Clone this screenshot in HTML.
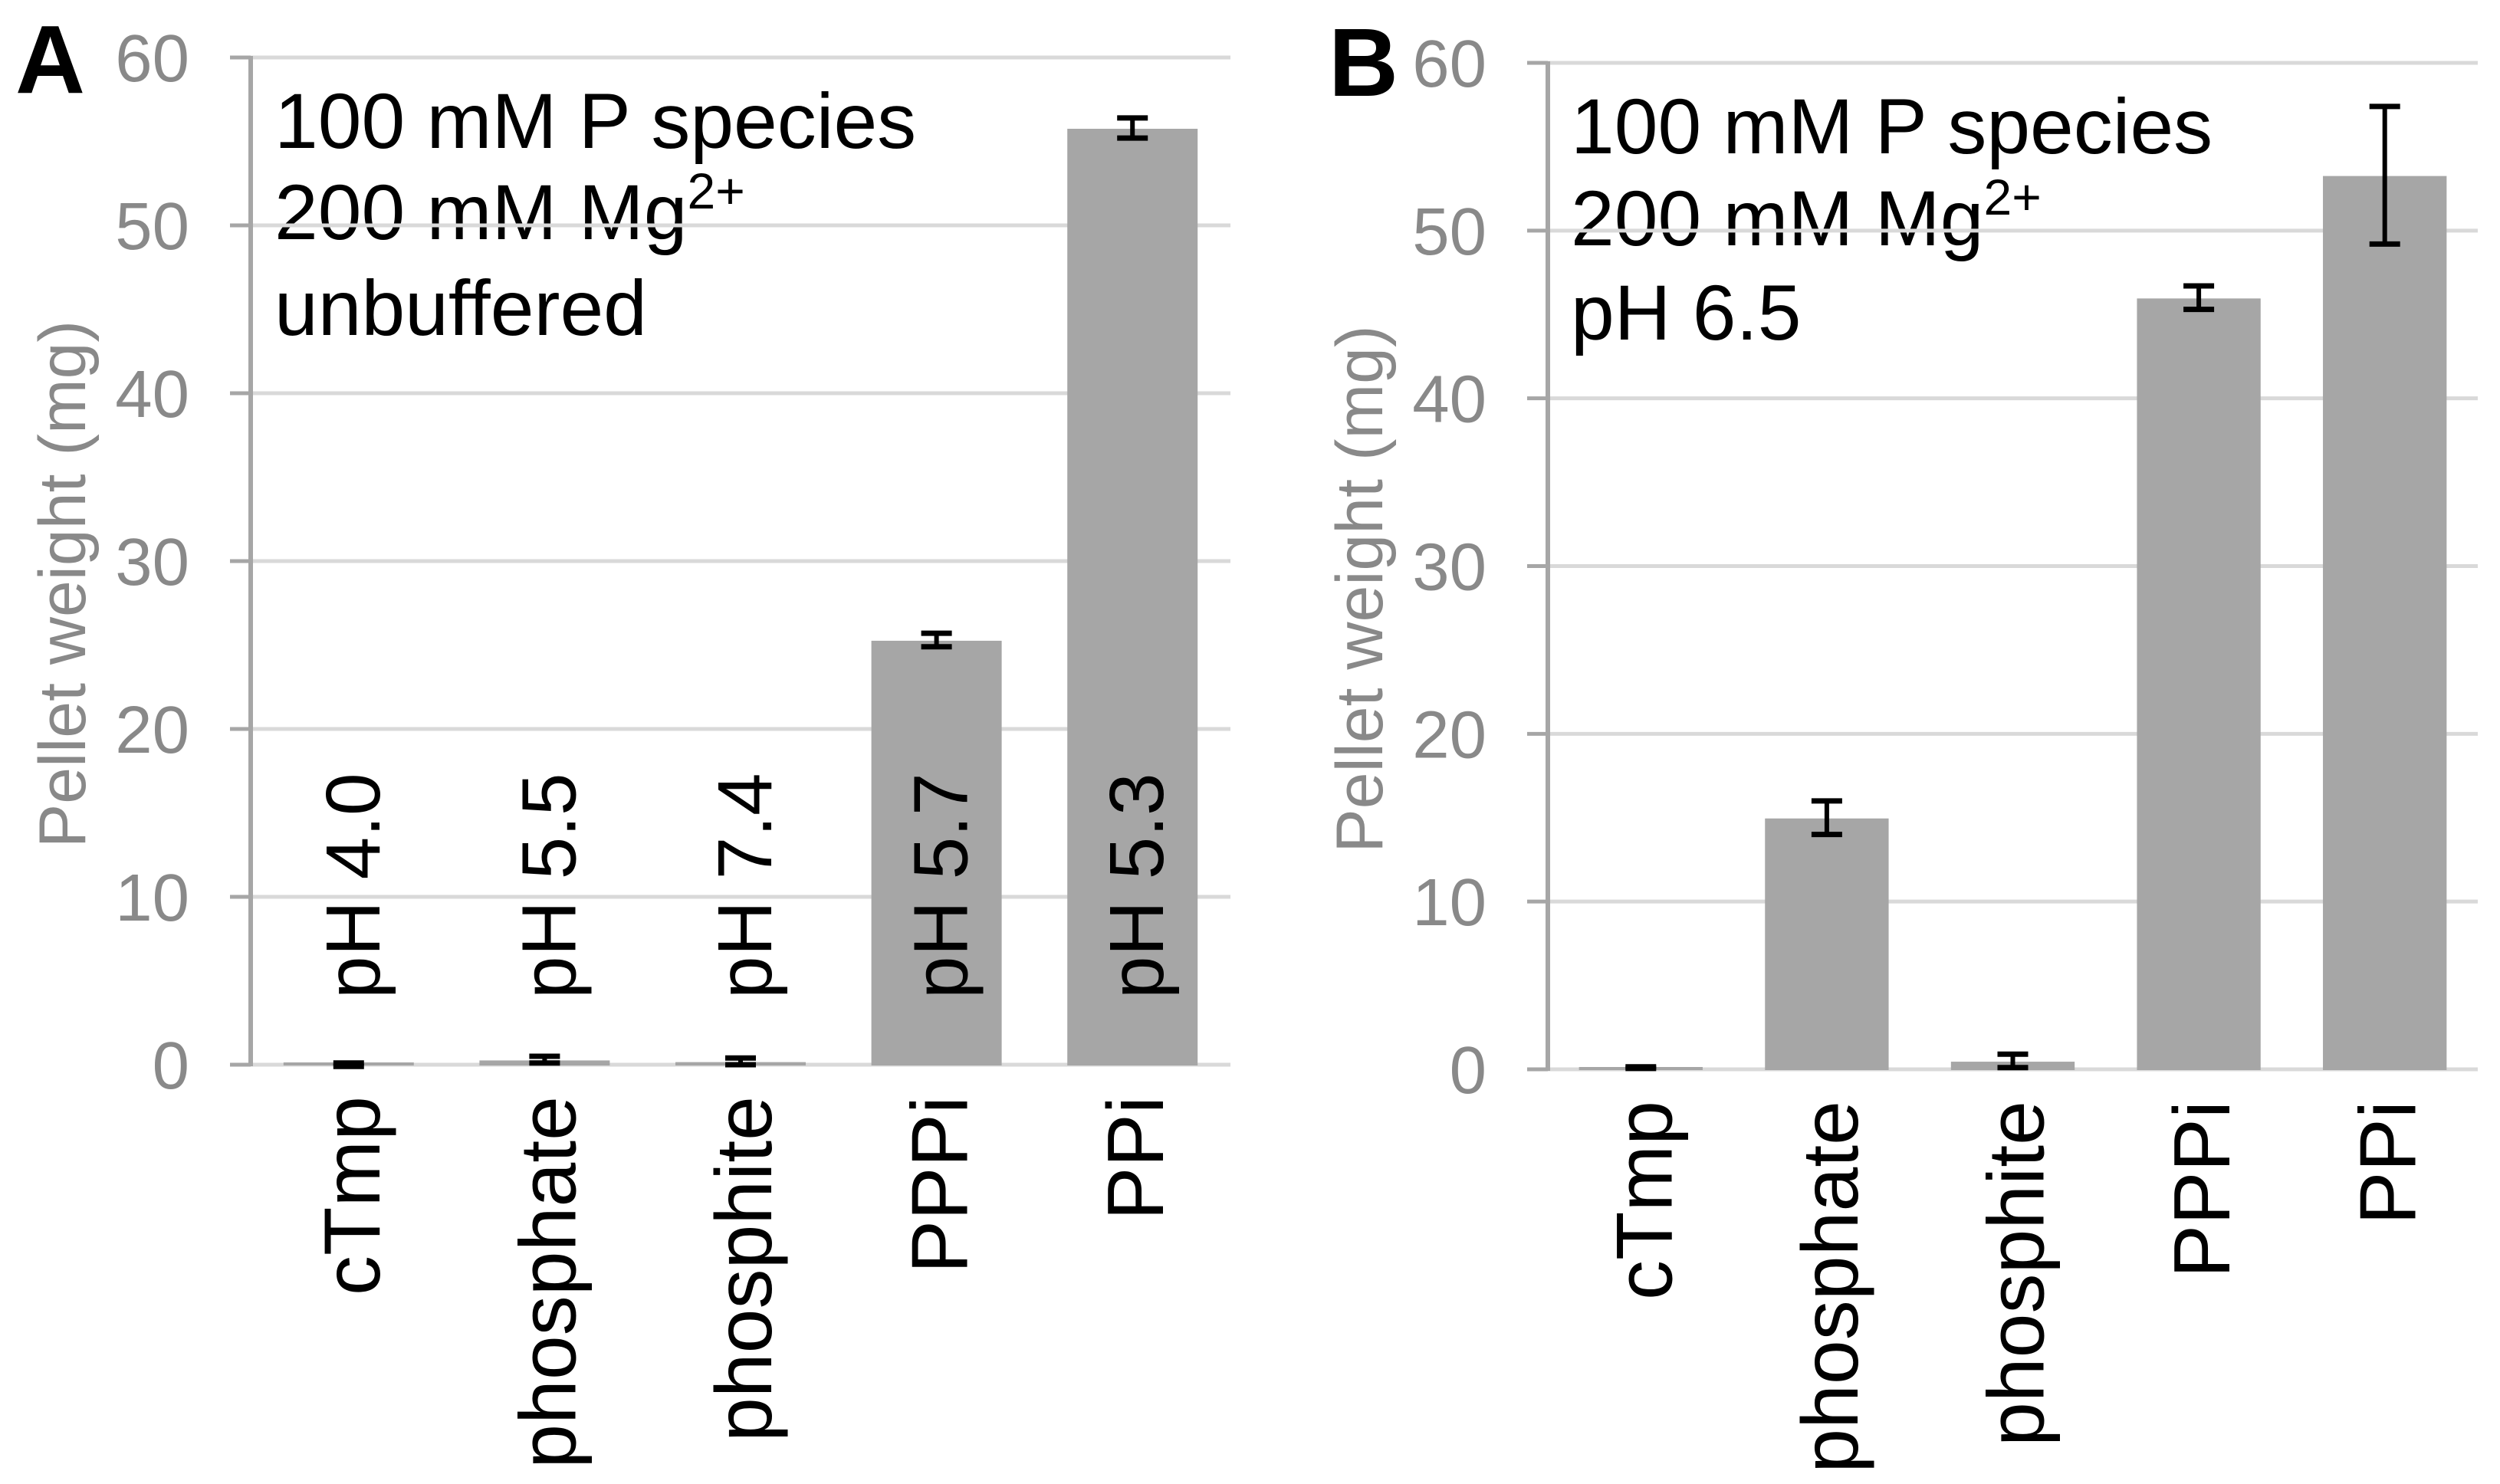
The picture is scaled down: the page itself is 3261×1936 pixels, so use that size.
<!DOCTYPE html>
<html><head><meta charset="utf-8">
<style>
html,body{margin:0;padding:0;background:#fff;}
svg{display:block;font-family:"Liberation Sans",Arial,sans-serif;}
</style></head>
<body>
<svg id="chart" width="3261" height="1936" viewBox="0 0 3261 1936" xmlns="http://www.w3.org/2000/svg">
<text x="20" y="121" font-size="126" font-weight="bold" fill="#000">A</text>
<text x="1733" y="125" font-size="126" font-weight="bold" fill="#000">B</text>
<g font-size="102" fill="#000">
<text x="358" y="193">100 mM P species</text>
<text x="358" y="312">200 mM Mg<tspan font-size="66" dy="-40">2+</tspan></text>
<text x="358" y="437">unbuffered</text>
</g>
<g font-size="102" fill="#000">
<text x="2049" y="200">100 mM P species</text>
<text x="2049" y="320">200 mM Mg<tspan font-size="66" dy="-40">2+</tspan></text>
<text x="2049" y="443">pH 6.5</text>
</g>
</svg>
<script>
const categories = ["cTmp","phosphate","phosphite","PPPi","PPi"];
const valuesA = [0.0, 0.3, 0.2, 25.3, 55.8];
const errorsA = [0.1, 0.2, 0.2, 0.4, 0.6];
const phLabelsA = ["pH 4.0","pH 5.5","pH 7.4","pH 5.7","pH 5.3"];
const valuesB = [0.1, 15.0, 0.5, 46.0, 53.3];
const errorsB = [0.05, 1.0, 0.4, 0.7, 4.1];
const yTicks = [0,10,20,30,40,50,60];

const NS = "http://www.w3.org/2000/svg";
const svg = document.getElementById('chart');
function mk(tag, attrs, parent){
  const e = document.createElementNS(NS, tag);
  for (const k in attrs) e.setAttribute(k, attrs[k]);
  (parent||svg).appendChild(e);
  return e;
}
function panel(id, x0, x1, y0, y60, vals, errs, phs, tickRight, titleX){
  const g = mk('g', {});
  
  
  const yScale = v => y0 - (v/60)*(y0-y60);
  const cw = (x1-x0)/categories.length;
  const bw = cw*0.665;
  const xCenter = i => x0 + (i+0.5)*cw;
  yTicks.forEach(t => {
    const y = yScale(t);
    if (t > 0) {
      const gl = mk('line', {x1:x0, x2:x1, y1:y, y2:y, stroke:'#d9d9d9', 'stroke-width':5}, g);
      
      
    }
    const tk = mk('line', {x1:x0-27, x2:x0, y1:y, y2:y, stroke:'#a6a6a6', 'stroke-width':5}, g);
    
    
    const tl = mk('text', {x:tickRight, y:y+31, 'text-anchor':'end', 'font-size':87, fill:'#898989'}, g);
    tl.textContent = t;
    
    
  });
  const base = mk('line', {x1:x0, x2:x1, y1:y0, y2:y0, stroke:'#d9d9d9', 'stroke-width':5}, g);
  
  
  const ax = mk('line', {x1:x0, x2:x0, y1:y60-2, y2:y0+2, stroke:'#a6a6a6', 'stroke-width':6}, g);
  
  
  const yt = mk('text', {x:0, y:0, 'text-anchor':'middle', 'font-size':86, fill:'#898989',
    transform:'translate(' + titleX + ',' + ((y0+y60)/2+30) + ') rotate(-90)'}, g);
  yt.textContent = 'Pellet weight (mg)';
  
  
  categories.forEach((c, i) => {
    const cx = xCenter(i);
    const top = yScale(vals[i]);
    const h = Math.max(y0 - top, 4);
    const bar = mk('rect', {x:cx-bw/2, y:y0-h+1, width:bw, height:h, fill:'#a6a6a6'}, g);
    
    
    const et = yScale(vals[i]+errs[i]), eb = yScale(vals[i]-errs[i]);
    const eg = mk('g', {stroke:'#000', 'stroke-width':7}, g);
    
    
    mk('line', {x1:cx, x2:cx, y1:et, y2:eb, 'stroke-width':6}, eg);
    mk('line', {x1:cx-20, x2:cx+20, y1:et, y2:et}, eg);
    mk('line', {x1:cx-20, x2:cx+20, y1:eb, y2:eb}, eg);
    const lbl = mk('text', {x:0, y:0, 'text-anchor':'end', 'font-size':104, fill:'#000',
      transform:'translate(' + (cx+40) + ',' + (y0+41) + ') rotate(-90)'}, g);
    lbl.textContent = c;
    
    
    if (phs) {
      const ph = mk('text', {x:0, y:0, 'text-anchor':'start', 'font-size':100, fill:'#000',
        transform:'translate(' + (cx+40) + ',' + (y0-86) + ') rotate(-90)'}, g);
      ph.textContent = phs[i];
      
      
    }
  });
}
panel('a', 327, 1605, 1389, 75, valuesA, errorsA, phLabelsA, 247, 111);
panel('b', 2019, 3232, 1395, 82, valuesB, errorsB, null, 1939, 1803);
</script>
</body></html>
